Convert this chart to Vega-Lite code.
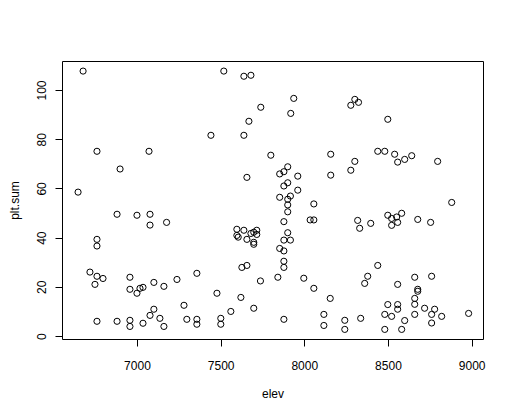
{
  "$schema": "https://vega.github.io/schema/vega-lite/v6.json",
  "width": 421,
  "height": 278,
  "autosize": {"type": "none"},
  "padding": {"left": 62, "top": 61, "right": 34, "bottom": 77},
  "background": "white",
  "config": {
    "view": {"stroke": "black", "strokeWidth": 1},
    "font": "Liberation Sans",
    "axis": {
      "grid": false,
      "domain": false,
      "tickColor": "black",
      "tickSize": 7,
      "tickWidth": 1,
      "labelColor": "black",
      "labelFont": "Liberation Sans",
      "labelFontSize": 12,
      "titleFont": "Liberation Sans",
      "titleFontSize": 12,
      "titleFontWeight": "normal",
      "titleColor": "black"
    }
  },
  "data": {
    "values": [
      {"elev": 6678, "plt_sum": 107.7},
      {"elev": 6648, "plt_sum": 58.5},
      {"elev": 6761, "plt_sum": 75.1},
      {"elev": 6899, "plt_sum": 67.9},
      {"elev": 7072, "plt_sum": 75.1},
      {"elev": 6881, "plt_sum": 49.5},
      {"elev": 7000, "plt_sum": 49.1},
      {"elev": 7078, "plt_sum": 49.5},
      {"elev": 7078, "plt_sum": 45.1},
      {"elev": 7177, "plt_sum": 46.2},
      {"elev": 6761, "plt_sum": 39.3},
      {"elev": 6761, "plt_sum": 36.6},
      {"elev": 6719, "plt_sum": 26.0},
      {"elev": 6761, "plt_sum": 24.3},
      {"elev": 6797, "plt_sum": 23.4},
      {"elev": 6749, "plt_sum": 21.0},
      {"elev": 6958, "plt_sum": 23.9},
      {"elev": 6958, "plt_sum": 19.0},
      {"elev": 7000, "plt_sum": 17.4},
      {"elev": 7018, "plt_sum": 19.4},
      {"elev": 7036, "plt_sum": 19.8},
      {"elev": 7101, "plt_sum": 21.8},
      {"elev": 7161, "plt_sum": 20.2},
      {"elev": 7239, "plt_sum": 23.0},
      {"elev": 7358, "plt_sum": 25.5},
      {"elev": 7281, "plt_sum": 12.5},
      {"elev": 7101, "plt_sum": 10.9},
      {"elev": 7078, "plt_sum": 8.4},
      {"elev": 7137, "plt_sum": 7.2},
      {"elev": 7161, "plt_sum": 3.9},
      {"elev": 7036, "plt_sum": 5.2},
      {"elev": 6958, "plt_sum": 6.4},
      {"elev": 6958, "plt_sum": 3.9},
      {"elev": 6881, "plt_sum": 6.0},
      {"elev": 6761, "plt_sum": 6.0},
      {"elev": 7298, "plt_sum": 6.8},
      {"elev": 7358, "plt_sum": 6.8},
      {"elev": 7358, "plt_sum": 4.8},
      {"elev": 7519, "plt_sum": 107.7},
      {"elev": 7639, "plt_sum": 105.6},
      {"elev": 7681, "plt_sum": 106.0},
      {"elev": 7937, "plt_sum": 96.6},
      {"elev": 7740, "plt_sum": 93.0},
      {"elev": 7919, "plt_sum": 90.5},
      {"elev": 7669, "plt_sum": 87.3},
      {"elev": 7442, "plt_sum": 81.6},
      {"elev": 7639, "plt_sum": 81.6},
      {"elev": 7800, "plt_sum": 73.5},
      {"elev": 7657, "plt_sum": 64.5},
      {"elev": 7901, "plt_sum": 68.8},
      {"elev": 7878, "plt_sum": 66.8},
      {"elev": 7853, "plt_sum": 65.9},
      {"elev": 7961, "plt_sum": 65.0},
      {"elev": 7901, "plt_sum": 62.3},
      {"elev": 7878, "plt_sum": 61.0},
      {"elev": 7961, "plt_sum": 59.3},
      {"elev": 7853, "plt_sum": 56.4},
      {"elev": 7901, "plt_sum": 55.6},
      {"elev": 7917, "plt_sum": 56.9},
      {"elev": 7901, "plt_sum": 53.3},
      {"elev": 7901, "plt_sum": 50.5},
      {"elev": 7878, "plt_sum": 46.5},
      {"elev": 7901, "plt_sum": 42.0},
      {"elev": 7878, "plt_sum": 39.0},
      {"elev": 7917, "plt_sum": 39.0},
      {"elev": 7853, "plt_sum": 35.6},
      {"elev": 7878, "plt_sum": 34.6},
      {"elev": 7878, "plt_sum": 30.4},
      {"elev": 7878, "plt_sum": 27.9},
      {"elev": 7842, "plt_sum": 23.9},
      {"elev": 7997, "plt_sum": 23.5},
      {"elev": 7878, "plt_sum": 6.8},
      {"elev": 7698, "plt_sum": 11.3},
      {"elev": 7561, "plt_sum": 10.0},
      {"elev": 7501, "plt_sum": 7.2},
      {"elev": 7501, "plt_sum": 4.8},
      {"elev": 7478, "plt_sum": 17.4},
      {"elev": 7621, "plt_sum": 15.7},
      {"elev": 7738, "plt_sum": 22.4},
      {"elev": 7627, "plt_sum": 27.9},
      {"elev": 7657, "plt_sum": 28.7},
      {"elev": 7597, "plt_sum": 43.4},
      {"elev": 7639, "plt_sum": 43.0},
      {"elev": 7597, "plt_sum": 40.9},
      {"elev": 7605, "plt_sum": 40.2},
      {"elev": 7657, "plt_sum": 39.3},
      {"elev": 7681, "plt_sum": 41.7},
      {"elev": 7698, "plt_sum": 42.2},
      {"elev": 7716, "plt_sum": 43.0},
      {"elev": 7716, "plt_sum": 41.3},
      {"elev": 7698, "plt_sum": 38.1},
      {"elev": 7698, "plt_sum": 37.3},
      {"elev": 8057, "plt_sum": 53.7},
      {"elev": 8035, "plt_sum": 47.2},
      {"elev": 8057, "plt_sum": 47.2},
      {"elev": 8057, "plt_sum": 19.4},
      {"elev": 8155, "plt_sum": 15.3},
      {"elev": 8117, "plt_sum": 8.8},
      {"elev": 8117, "plt_sum": 4.3},
      {"elev": 8242, "plt_sum": 6.4},
      {"elev": 8242, "plt_sum": 2.7},
      {"elev": 8278, "plt_sum": 93.8},
      {"elev": 8302, "plt_sum": 96.2},
      {"elev": 8324, "plt_sum": 95.0},
      {"elev": 8499, "plt_sum": 88.1},
      {"elev": 8439, "plt_sum": 75.1},
      {"elev": 8481, "plt_sum": 75.1},
      {"elev": 8540, "plt_sum": 73.9},
      {"elev": 8558, "plt_sum": 70.7},
      {"elev": 8600, "plt_sum": 71.8},
      {"elev": 8642, "plt_sum": 73.3},
      {"elev": 8797, "plt_sum": 71.0},
      {"elev": 8302, "plt_sum": 71.0},
      {"elev": 8278, "plt_sum": 67.4},
      {"elev": 8158, "plt_sum": 73.9},
      {"elev": 8158, "plt_sum": 65.4},
      {"elev": 8881, "plt_sum": 54.3},
      {"elev": 8319, "plt_sum": 47.0},
      {"elev": 8331, "plt_sum": 43.8},
      {"elev": 8397, "plt_sum": 45.8},
      {"elev": 8499, "plt_sum": 49.1},
      {"elev": 8522, "plt_sum": 47.8},
      {"elev": 8522, "plt_sum": 45.0},
      {"elev": 8552, "plt_sum": 48.4},
      {"elev": 8558, "plt_sum": 46.2},
      {"elev": 8582, "plt_sum": 49.9},
      {"elev": 8678, "plt_sum": 47.4},
      {"elev": 8755, "plt_sum": 46.2},
      {"elev": 8439, "plt_sum": 28.7},
      {"elev": 8379, "plt_sum": 24.3},
      {"elev": 8361, "plt_sum": 21.4},
      {"elev": 8558, "plt_sum": 21.0},
      {"elev": 8660, "plt_sum": 23.9},
      {"elev": 8761, "plt_sum": 24.3},
      {"elev": 8678, "plt_sum": 19.0},
      {"elev": 8678, "plt_sum": 18.2},
      {"elev": 8660, "plt_sum": 15.3},
      {"elev": 8660, "plt_sum": 12.9},
      {"elev": 8499, "plt_sum": 12.8},
      {"elev": 8558, "plt_sum": 12.8},
      {"elev": 8558, "plt_sum": 10.9},
      {"elev": 8719, "plt_sum": 11.3},
      {"elev": 8779, "plt_sum": 10.9},
      {"elev": 8481, "plt_sum": 8.8},
      {"elev": 8522, "plt_sum": 8.0},
      {"elev": 8660, "plt_sum": 8.8},
      {"elev": 8761, "plt_sum": 8.8},
      {"elev": 8821, "plt_sum": 8.0},
      {"elev": 8982, "plt_sum": 9.2},
      {"elev": 8600, "plt_sum": 6.3},
      {"elev": 8761, "plt_sum": 5.3},
      {"elev": 8337, "plt_sum": 7.2},
      {"elev": 8481, "plt_sum": 2.7},
      {"elev": 8582, "plt_sum": 2.7}
    ]
  },
  "mark": {"type": "point", "shape": "circle", "filled": false, "stroke": "black", "strokeWidth": 1, "size": 38, "opacity": 1, "clip": true},
  "encoding": {
    "x": {
      "field": "elev",
      "type": "quantitative",
      "scale": {"domain": [6552, 9068], "nice": false, "zero": false},
      "axis": {"title": "elev", "values": [7000, 7500, 8000, 8500, 9000], "format": "d", "labelPadding": 14, "titlePadding": 17, "labelFlush": false}
    },
    "y": {
      "field": "plt_sum",
      "type": "quantitative",
      "scale": {"domain": [-1.2, 111.8], "nice": false, "zero": false},
      "axis": {"title": "plt.sum", "values": [0, 20, 40, 60, 80, 100], "format": "d", "labelAngle": -90, "labelAlign": "center", "labelBaseline": "alphabetic", "labelPadding": 10, "titlePadding": 14, "labelFlush": false}
    }
  }
}
